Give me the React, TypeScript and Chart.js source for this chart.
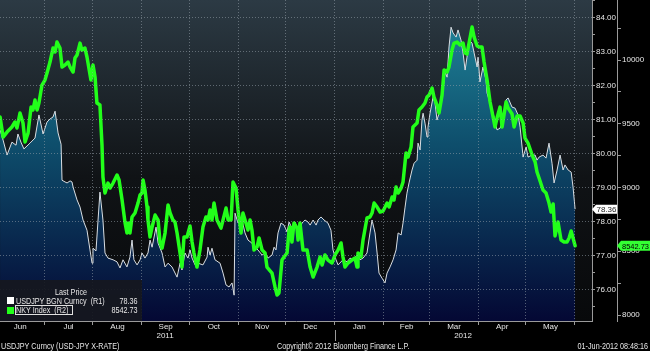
import React, { useEffect, useRef } from 'react';
import { Chart, registerables } from 'chart.js';

Chart.register(...registerables);

const FONT = '"Liberation Sans", Arial, sans-serif';

// x axis: days since 1 Jun 2011
const monthLabels = ['Jun', 'Jul', 'Aug', 'Sep', 'Oct', 'Nov', 'Dec', 'Jan', 'Feb', 'Mar', 'Apr', 'May'];
const monthMidDays = [15, 45.5, 76.5, 107, 137.5, 168, 198.5, 229.5, 259.5, 289.5, 320, 350.5];
const monthBoundaryDays = [30, 61, 92, 122, 153, 183, 214, 245, 274, 305, 335, 366];
const yearLabels = ['2011', '2012'];
const yearMidDays = [106.6, 295.2];
const yearDividerDay = 214;
const dayRange = [2.15, 376.8];

const r1Ticks = [75.5, 76, 76.5, 77, 77.5, 78, 78.5, 79, 79.5, 80, 80.5, 81, 81.5, 82, 82.5, 83, 83.5, 84, 84.5];
const r1Range = [75.07, 84.51];
const r2Ticks = [8000, 8250, 8500, 8750, 9000, 9250, 9500, 9750, 10000, 10250];
const r2Range = [7953, 10471];

const usdjpyLast = 78.36;
const nkyLast = 8542.73;

// [day, USDJPY]
const usdjpyPoints: [number, number][] = [
  [2.2, 80.69], [4.1, 80.39], [6.6, 79.95], [9.7, 80.33], [12.3, 80.24], [13.5, 80.57], [15.4, 80.33], [17.3, 80.13], [21.1, 80.3], [24.3, 80.45],
  [26.8, 81.13], [29.4, 80.57], [31.9, 80.92], [33.8, 81.01], [35.7, 81.07], [37.0, 81.24], [38.9, 80.6], [40.8, 80.27], [41.4, 79.21], [43.3, 79.16],
  [44.6, 79.13], [46.5, 79.19], [47.7, 79.16], [48.4, 79.01], [50.9, 78.63], [52.8, 78.42], [54.7, 78.04], [57.2, 77.74], [59.1, 77.16], [60.4, 76.77],
  [61.0, 77.21], [62.9, 77.13], [64.2, 78.04], [65.4, 78.86], [67.3, 78.04], [68.6, 77.07], [70.5, 76.92], [73.7, 76.87], [76.2, 76.81], [78.1, 76.63],
  [80.0, 76.87], [82.5, 76.66], [84.4, 76.95], [85.7, 77.45], [86.9, 76.87], [88.9, 76.72], [90.8, 76.87], [92.0, 77.07], [93.9, 76.92], [95.8, 77.07],
  [97.1, 77.45], [98.4, 77.24], [100.9, 77.83], [102.2, 77.36], [104.7, 77.07], [106.6, 76.66], [108.5, 76.77], [111.0, 76.66], [114.2, 76.36], [116.1, 76.77],
  [117.3, 76.57], [119.2, 77.07], [121.1, 76.92], [122.4, 77.16], [123.7, 76.92], [125.6, 76.72], [127.5, 76.77], [130.6, 76.72], [133.2, 76.95], [133.8, 77.24],
  [135.1, 77.01], [136.3, 77.21], [138.2, 76.87], [141.4, 76.77], [143.3, 76.48], [145.2, 76.13], [147.1, 76.07], [149.0, 76.19], [150.3, 75.83], [150.9, 78.24],
  [152.8, 77.95], [155.3, 78.04], [157.2, 77.66], [159.1, 77.45], [161.6, 77.36], [163.5, 77.24], [165.4, 77.16], [168.0, 77.01], [169.9, 77.07], [171.8, 76.92],
  [174.3, 77.01], [175.6, 77.24], [176.8, 77.16], [178.1, 77.66], [180.0, 77.95], [181.9, 77.89], [183.8, 77.69], [185.1, 77.98], [186.9, 77.8], [188.9, 77.98],
  [190.8, 77.66], [193.3, 77.95], [195.2, 78.04], [197.1, 77.98], [198.4, 77.89], [200.3, 78.04], [202.2, 77.89], [203.4, 78.04], [205.3, 78.13], [207.2, 78.04],
  [209.7, 77.95], [211.6, 77.74], [212.9, 77.16], [214.8, 76.87], [216.1, 76.72], [219.2, 76.87], [221.8, 76.81], [223.7, 76.92], [225.6, 76.87], [228.1, 77.01],
  [230.0, 76.87], [231.9, 76.92], [234.4, 77.07], [236.3, 77.66], [237.6, 78.04], [239.5, 77.66], [240.8, 77.07], [242.0, 76.48], [243.9, 76.33], [245.8, 76.19],
  [247.1, 76.48], [249.0, 76.66], [250.9, 76.87], [252.8, 77.16], [254.1, 77.66], [256.0, 77.6], [257.2, 77.95], [258.5, 78.42], [259.7, 78.83], [261.0, 79.13],
  [262.9, 79.51], [264.2, 79.71], [266.1, 79.8], [266.7, 80.3], [268.0, 80.1], [269.2, 80.98], [269.9, 81.18], [271.1, 80.89], [272.4, 80.48], [273.0, 80.77],
  [274.3, 81.18], [276.2, 81.65], [277.5, 81.48], [278.7, 80.98], [280.6, 81.27], [282.5, 81.86], [283.8, 82.39], [285.1, 82.24], [286.3, 83.13], [287.6, 83.71],
  [288.9, 83.54], [290.8, 83.42], [292.0, 83.63], [293.9, 83.33], [295.2, 82.95], [296.5, 82.45], [297.7, 82.83], [299.0, 83.33], [300.9, 83.24], [302.2, 82.95],
  [304.1, 82.54], [304.7, 82.83], [305.9, 82.1], [307.8, 82.54], [309.7, 82.16], [310.4, 81.77], [312.3, 81.48], [314.2, 81.18], [316.7, 80.69], [318.6, 80.74],
  [320.5, 80.98], [322.4, 81.57], [323.7, 81.63], [326.2, 81.36], [328.1, 81.33], [330.0, 81.13], [331.3, 80.77], [333.2, 79.89], [335.1, 80.19], [336.3, 79.89],
  [338.9, 79.95], [340.8, 79.95], [342.0, 79.8], [343.3, 79.89], [345.8, 79.95], [347.7, 79.86], [349.6, 80.3], [351.5, 79.71], [352.8, 79.13], [354.7, 79.51],
  [356.6, 79.95], [358.5, 79.51], [359.7, 79.66], [361.7, 79.51], [363.6, 79.45], [364.8, 79.01], [366.1, 78.36],
];

// [day, NKY]
const nkyPoints: [number, number][] = [
  [2.2, 9553], [4.1, 9396], [6.6, 9435], [9.7, 9475], [11.6, 9514], [12.9, 9467], [14.8, 9584], [16.7, 9506], [18.0, 9357], [19.9, 9427],
  [21.8, 9631], [23.0, 9608], [24.3, 9686], [25.6, 9608], [26.8, 9663], [28.7, 9804], [30.6, 9843], [31.9, 9898], [33.8, 9984], [35.7, 10094],
  [37.0, 10063], [38.2, 10141], [40.1, 10094], [41.4, 9945], [43.3, 9961], [45.2, 9984], [46.5, 9945], [48.4, 9906], [49.6, 10016], [50.9, 10039],
  [52.8, 10133], [54.0, 10078], [55.9, 10094], [57.2, 10024], [59.7, 9843], [61.0, 9961], [62.3, 9867], [63.5, 9663], [65.4, 9647], [66.7, 9333],
  [67.3, 9082], [68.6, 8957], [70.5, 9035], [71.8, 8996], [73.7, 9035], [76.2, 9098], [77.5, 9059], [79.4, 8902], [81.3, 8722], [82.5, 8643],
  [83.2, 8722], [84.4, 8643], [85.7, 8769], [87.6, 8800], [89.5, 8878], [90.8, 8941], [92.0, 8957], [92.7, 9059], [93.9, 8980], [95.2, 8847],
  [95.8, 8745], [97.1, 8612], [98.4, 8690], [100.3, 8784], [102.2, 8745], [103.4, 8573], [104.7, 8525], [106.6, 8643], [108.5, 8863], [109.8, 8800],
  [111.6, 8745], [112.9, 8729], [114.2, 8643], [116.1, 8486], [117.3, 8376], [118.6, 8612], [120.5, 8612], [122.4, 8698], [123.7, 8573], [124.9, 8486],
  [126.8, 8376], [128.7, 8510], [130.6, 8690], [132.5, 8769], [133.8, 8745], [135.1, 8824], [136.3, 8745], [137.6, 8878], [139.5, 8745], [142.0, 8682],
  [143.3, 8745], [145.2, 8839], [146.5, 8745], [148.4, 8745], [149.6, 9043], [151.5, 8996], [152.8, 8824], [154.7, 8643], [155.9, 8800], [157.8, 8722],
  [159.1, 8667], [160.4, 8745], [161.6, 8667], [162.9, 8510], [164.8, 8533], [166.1, 8604], [168.0, 8510], [169.9, 8486], [171.1, 8376], [174.3, 8329],
  [176.2, 8220], [177.5, 8157], [178.7, 8173], [180.6, 8431], [181.9, 8455], [183.8, 8486], [185.1, 8667], [185.7, 8690], [186.9, 8573], [188.2, 8722],
  [190.1, 8682], [190.8, 8588], [192.0, 8722], [193.9, 8510], [196.5, 8510], [198.4, 8376], [200.3, 8298], [202.8, 8376], [204.7, 8455], [206.0, 8392],
  [207.8, 8471], [209.7, 8431], [212.3, 8408], [214.2, 8471], [216.1, 8510], [218.0, 8565], [219.2, 8455], [220.5, 8376], [222.4, 8408], [224.9, 8431],
  [226.8, 8447], [228.1, 8376], [228.7, 8486], [230.6, 8455], [231.9, 8588], [234.4, 8761], [236.3, 8769], [237.6, 8800], [238.9, 8878], [240.8, 8847],
  [242.7, 8808], [244.6, 8816], [247.1, 8878], [248.4, 8847], [250.3, 8926], [251.5, 8902], [252.8, 9004], [254.1, 8957], [256.0, 8996], [257.2, 9043],
  [259.1, 9271], [260.4, 9239], [262.3, 9318], [263.5, 9475], [266.1, 9506], [267.3, 9608], [269.2, 9631], [271.1, 9663], [272.4, 9710], [273.7, 9725],
  [275.6, 9780], [276.8, 9710], [278.7, 9647], [280.0, 9584], [281.9, 9725], [283.2, 9922], [285.1, 9906], [286.3, 9945], [288.2, 10078], [289.5, 10133],
  [291.4, 10141], [293.3, 10118], [295.2, 10133], [296.5, 10055], [297.7, 10047], [299.0, 10133], [300.9, 10259], [302.2, 10180], [304.1, 10110], [305.4, 10102],
  [307.2, 10102], [308.5, 9984], [310.4, 9843], [312.3, 9671], [314.2, 9553], [315.4, 9475], [316.7, 9545], [318.6, 9631], [319.9, 9475], [321.1, 9569],
  [322.4, 9671], [323.7, 9624], [326.2, 9577], [327.5, 9475], [329.4, 9561], [331.3, 9561], [333.2, 9506], [334.4, 9388], [336.3, 9349], [338.9, 9255],
  [340.8, 9200], [342.0, 9122], [343.3, 9075], [345.8, 8980], [347.7, 8957], [349.6, 8878], [350.9, 8808], [352.2, 8871], [353.4, 8620], [355.3, 8729],
  [357.2, 8588], [359.1, 8573], [361.0, 8573], [362.3, 8604], [363.6, 8659], [364.8, 8604], [366.1, 8542.73],
];

const GRID = 'rgba(150,160,170,0.55)';
const AXIS = '#9a9a9a';
const TEXT = '#e6e6e6';
const GREEN = '#22ff1a';

function xTickLabel(v: number): string | string[] {
  const i = monthMidDays.indexOf(v);
  if (i >= 0) return monthLabels[i];
  const j = yearMidDays.indexOf(v);
  if (j >= 0) return ['', yearLabels[j]];
  return '';
}

const bgPlugin = {
  id: 'bbgBackground',
  beforeDraw(chart: any) {
    const { ctx, chartArea: a, width, height } = chart;
    ctx.save();
    ctx.fillStyle = '#000';
    ctx.fillRect(0, 0, width, height);
    const g = ctx.createLinearGradient(0, a.top, 0, a.bottom);
    g.addColorStop(0, 'rgb(44,58,68)');
    g.addColorStop(0.55, 'rgb(16,19,22)');
    g.addColorStop(1, 'rgb(8,9,11)');
    ctx.fillStyle = g;
    ctx.fillRect(a.left, a.top, a.right - a.left, a.bottom - a.top);
    ctx.restore();
  },
  afterDraw(chart: any) {
    const { ctx } = chart;
    const xs = chart.scales.x;
    const y1 = chart.scales.y1;
    const y2 = chart.scales.y2;
    ctx.save();
    // year divider
    const xd = Math.round(xs.getPixelForValue(yearDividerDay)) + 0.5;
    ctx.strokeStyle = AXIS;
    ctx.lineWidth = 1;
    ctx.beginPath();
    ctx.moveTo(xd, xs.top + 9);
    ctx.lineTo(xd, xs.top + 20);
    ctx.stroke();

    ctx.font = `8px ${FONT}`;
    ctx.textBaseline = 'middle';
    ctx.textAlign = 'left';
    // USDJPY last price flag
    const ya = y1.getPixelForValue(usdjpyLast);
    ctx.fillStyle = '#ffffff';
    ctx.beginPath();
    ctx.moveTo(y1.left, ya);
    ctx.lineTo(y1.left + 4, ya - 4.5);
    ctx.lineTo(y1.right, ya - 4.5);
    ctx.lineTo(y1.right, ya + 4.5);
    ctx.lineTo(y1.left + 4, ya + 4.5);
    ctx.closePath();
    ctx.fill();
    ctx.fillStyle = '#222';
    ctx.fillText(usdjpyLast.toFixed(2), y1.left + 4.5, ya + 0.5, y1.right - y1.left - 5);
    // NKY last price flag
    const yb = y2.getPixelForValue(nkyLast);
    ctx.fillStyle = '#33ff33';
    ctx.beginPath();
    ctx.moveTo(y2.left, yb);
    ctx.lineTo(y2.left + 4, yb - 5);
    ctx.lineTo(y2.right, yb - 5);
    ctx.lineTo(y2.right, yb + 5);
    ctx.lineTo(y2.left + 4, yb + 5);
    ctx.closePath();
    ctx.fill();
    ctx.fillStyle = '#000';
    ctx.fillText(nkyLast.toFixed(2), y2.left + 5, yb + 0.5, y2.right - y2.left - 6);
    ctx.restore();
  },
};

export default function App() {
  const canvasRef = useRef<HTMLCanvasElement | null>(null);

  useEffect(() => {
    if (!canvasRef.current) return;
    Chart.defaults.font.family = FONT;
    const chart = new Chart(canvasRef.current, {
      type: 'line',
      data: {
        datasets: [
          {
            label: 'NKY Index (R2)',
            data: nkyPoints.map(([x, y]) => ({ x, y })),
            xAxisID: 'x',
            yAxisID: 'y2',
            borderColor: GREEN,
            borderWidth: 3.5,
            pointRadius: 0,
            tension: 0,
            fill: false,
            borderJoinStyle: 'round',
            borderCapStyle: 'round',
          },
          {
            label: 'USDJPY BGN Curncy (R1)',
            data: usdjpyPoints.map(([x, y]) => ({ x, y })),
            xAxisID: 'x',
            yAxisID: 'y1',
            borderColor: '#d9dee3',
            borderWidth: 1,
            pointRadius: 0,
            tension: 0,
            fill: 'start',
            backgroundColor: (c: any) => {
              const a = c.chart.chartArea;
              if (!a) return 'rgba(20,90,120,0.9)';
              const g = c.chart.ctx.createLinearGradient(0, a.top, 0, a.bottom);
              g.addColorStop(0, 'rgb(34,138,158)');
              g.addColorStop(0.45, 'rgb(14,78,108)');
              g.addColorStop(1, 'rgb(4,8,52)');
              return g;
            },
          },
        ],
      },
      options: {
        responsive: false,
        devicePixelRatio: 1,
        animation: false,
        events: [],
        layout: { padding: 0 },
        plugins: { legend: { display: false }, tooltip: { enabled: false } },
        scales: {
          x: {
            type: 'linear',
            position: 'bottom',
            min: dayRange[0],
            max: dayRange[1],
            afterBuildTicks: (s: any) => {
              s.ticks = [...monthBoundaryDays, ...monthMidDays, ...yearMidDays]
                .sort((a, b) => a - b)
                .map((v) => ({ value: v }));
            },
            afterFit: (s: any) => {
              s.height = 30;
              s.paddingLeft = 0;
              s.paddingRight = 0;
            },
            ticks: {
              autoSkip: false,
              maxRotation: 0,
              minRotation: 0,
              padding: -2,
              color: TEXT,
              font: { family: FONT, size: 8, lineHeight: 1.05 },
              callback: (v: any) => xTickLabel(Number(v)),
            },
            grid: {
              z: 1,
              drawOnChartArea: true,
              color: (c: any) => (c.tick && monthBoundaryDays.includes(c.tick.value) ? GRID : 'transparent'),
              tickColor: (c: any) => (c.tick && monthBoundaryDays.includes(c.tick.value) ? AXIS : 'transparent'),
              tickLength: 4,
            },
            border: { display: true, color: AXIS, dash: [1, 2], z: 1 },
          },
          y1: {
            type: 'linear',
            position: 'right',
            weight: 0,
            min: r1Range[0],
            max: r1Range[1],
            afterBuildTicks: (s: any) => {
              s.ticks = r1Ticks.map((v) => ({ value: v }));
            },
            afterFit: (s: any) => {
              s.width = 25;
              s.paddingTop = 0;
              s.paddingBottom = 0;
            },
            ticks: {
              padding: 1,
              color: TEXT,
              font: { family: FONT, size: 8 },
              callback: (v: any) => (Number.isInteger(Number(v)) ? Number(v).toFixed(2) : ''),
            },
            grid: {
              z: 1,
              color: (c: any) => (c.tick && Number.isInteger(c.tick.value) ? GRID : 'transparent'),
              tickColor: AXIS,
              tickLength: 3,
            },
            border: { display: true, color: AXIS, dash: [1, 2], z: 1 },
          },
          y2: {
            type: 'linear',
            position: 'right',
            weight: 1,
            min: r2Range[0],
            max: r2Range[1],
            afterBuildTicks: (s: any) => {
              s.ticks = r2Ticks.map((v) => ({ value: v }));
            },
            afterFit: (s: any) => {
              s.width = 33;
              s.paddingTop = 0;
              s.paddingBottom = 0;
            },
            ticks: {
              padding: 1,
              color: TEXT,
              font: { family: FONT, size: 8 },
              callback: (v: any) => (Number(v) % 500 === 0 ? String(v) : ''),
            },
            grid: { drawOnChartArea: false, tickColor: AXIS, tickLength: 4 },
            border: { display: true, color: AXIS },
          },
        },
      },
      plugins: [bgPlugin],
    } as any);
    return () => chart.destroy();
  }, []);

  const txt = (origin: string): React.CSSProperties => ({
    position: 'absolute',
    fontFamily: FONT,
    fontSize: 9,
    lineHeight: '9px',
    color: TEXT,
    whiteSpace: 'pre',
    transform: 'scaleX(0.8)',
    transformOrigin: origin,
  });

  return (
    <div style={{ position: 'fixed', left: 0, top: 0, width: 650, height: 351, background: '#000', overflow: 'hidden' }}>
      <canvas ref={canvasRef} width={650} height={351} style={{ display: 'block', width: 650, height: 351 }} />
      <div style={{ position: 'absolute', left: 0, top: 280, width: 142, height: 41, background: 'rgba(22,24,30,0.92)' }}>
        <div style={{ ...txt('center'), left: 0, width: 142, top: 8, textAlign: 'center' }}>Last Price</div>
        <div style={{ position: 'absolute', left: 7, top: 17, width: 7, height: 7, background: '#ffffff' }} />
        <div style={{ ...txt('left'), left: 16, top: 17 }}>{'USDJPY BGN Curncy  (R1)'}</div>
        <div style={{ ...txt('right'), right: 4, top: 17, textAlign: 'right' }}>{usdjpyLast.toFixed(2)}</div>
        <div style={{ position: 'absolute', left: 7, top: 27, width: 7, height: 7, background: GREEN }} />
        <div style={{ position: 'absolute', left: 15, top: 25, width: 58, height: 10, border: '1px solid #e0e0e0', boxSizing: 'border-box' }} />
        <div style={{ ...txt('left'), left: 16, top: 26 }}>{'NKY Index  (R2)'}</div>
        <div style={{ ...txt('right'), right: 4, top: 26, textAlign: 'right' }}>{nkyLast.toFixed(2)}</div>
      </div>
      <div style={{ ...txt('left'), left: 1, top: 342 }}>USDJPY Curncy (USD-JPY X-RATE)</div>
      <div style={{ ...txt('left'), left: 277, top: 342 }}>Copyright© 2012 Bloomberg Finance L.P.</div>
      <div style={{ ...txt('right'), right: 2, top: 342, textAlign: 'right' }}>01-Jun-2012 08:48:16</div>
    </div>
  );
}
